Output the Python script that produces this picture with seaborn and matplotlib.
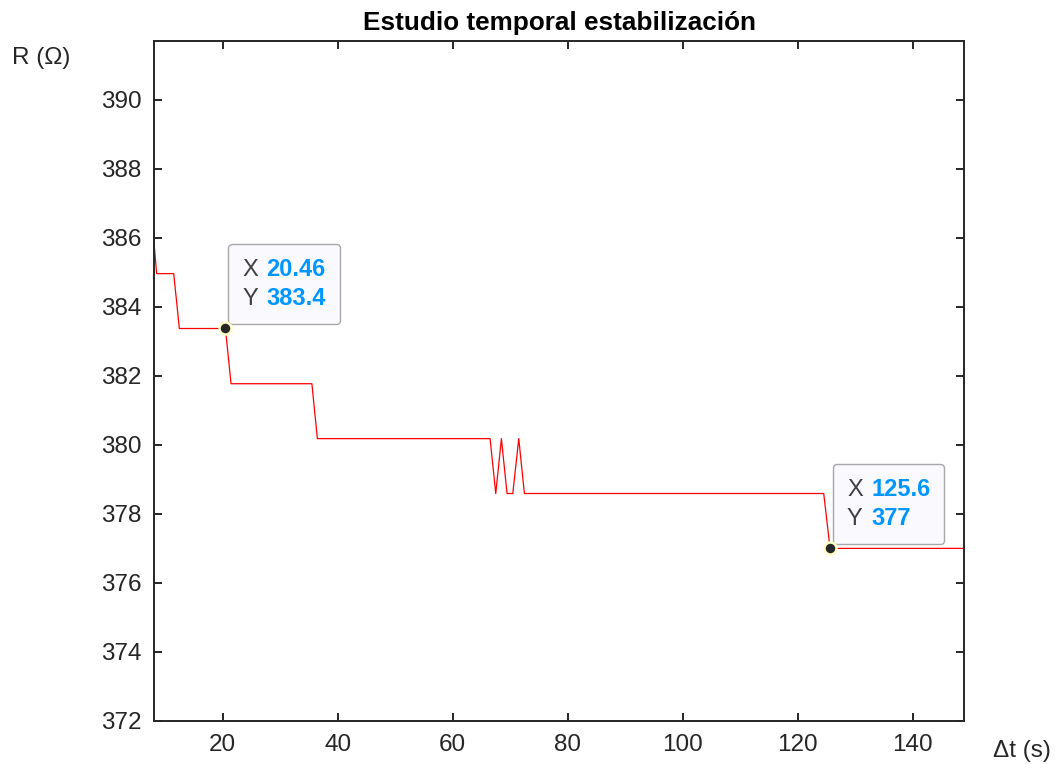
import matplotlib
matplotlib.use("Agg")
import matplotlib.pyplot as plt
from matplotlib.offsetbox import TextArea, HPacker, VPacker, AnnotationBbox
import seaborn as sns
import pandas as pd

# Resistance readings (breakpoints of the recorded trace)
t_s = [8.05, 8.5, 11.47, 12.45, 20.46, 21.44, 35.5, 36.45, 66.48, 67.47,
       68.45, 69.43, 70.43, 71.47, 72.45, 124.5, 125.6, 148.9]
r_ohm = [385.85, 384.96, 384.96, 383.37, 383.37, 381.77, 381.77, 380.18, 380.18, 378.59,
         380.18, 378.59, 378.59, 380.18, 378.59, 378.59, 377.0, 377.0]

# Marked points (data tips)
tip_t = [20.46, 125.6]
tip_r = [383.37, 377.0]

x_ticks = [20, 40, 60, 80, 100, 120, 140]
y_ticks = [372, 374, 376, 378, 380, 382, 384, 386, 388, 390]

title = "Estudio temporal estabilización"
x_label = "Δt (s)"
y_label = "R (Ω)"

sns.set_theme(style="white")
plt.rcParams["font.family"] = ["Liberation Sans", "DejaVu Sans"]

df = pd.DataFrame({"t": t_s, "R": r_ohm})
tips = pd.DataFrame({"t": tip_t, "R": tip_r})

fig = plt.figure(figsize=(10.58, 7.64), dpi=100)
ax = fig.add_axes([0.1456, 0.0563, 0.7656, 0.8901])

sns.lineplot(data=df, x="t", y="R", ax=ax, color="#ff0000", linewidth=0.9,
             estimator=None, sort=False)
sns.scatterplot(data=tips, x="t", y="R", ax=ax, color="#262626", s=75,
                edgecolor="#ffffc8", linewidth=1.8, zorder=5)

ax.set_xlim(min(t_s), max(t_s))
ax.set_ylim(372, 391.7)
ax.set_xticks(x_ticks)
ax.set_yticks(y_ticks)
ax.set_xlabel("")
ax.set_ylabel("")

for side in ["left", "right", "top", "bottom"]:
    ax.spines[side].set_visible(True)
    ax.spines[side].set_color("#262626")
    ax.spines[side].set_linewidth(1.4)

ax.tick_params(axis="both", which="both", direction="in", length=6, width=1.4,
               color="#262626", labelcolor="#262626", labelsize=17.5,
               top=True, right=True, bottom=True, left=True)
ax.tick_params(axis="y", pad=9)
ax.tick_params(axis="x", pad=9.5)

ax.set_title(title, fontsize=18.8, fontweight="bold", color="black", pad=8)

fig.text(0.039, 0.924, y_label, fontsize=17.5, color="#262626",
         ha="center", va="center")
fig.text(0.966, 0.017, x_label, fontsize=17.5, color="#262626",
         ha="center", va="center")

# Data tip boxes
for tx, ry in zip(tip_t, tip_r):
    rows = []
    for name, val in (("X", tx), ("Y", ry)):
        lab = TextArea(name, textprops=dict(fontsize=17, color="#404040"))
        num = TextArea(f"{val:.4g}", textprops=dict(fontsize=17, color="#0096ff",
                                                    fontweight="bold"))
        rows.append(HPacker(children=[lab, num], align="baseline", pad=0, sep=6))
    box = VPacker(children=rows, align="left", pad=0, sep=4.5)
    ab = AnnotationBbox(box, (tx, ry), xybox=(12.2, 13.2), xycoords="data",
                        boxcoords="offset points", box_alignment=(0, 0),
                        frameon=True, fontsize=10,
                        bboxprops=dict(boxstyle="round,pad=1.0,rounding_size=0.3",
                                       fc="#f9f9fe", ec="#a8a8a8", lw=1.0))
    ab.set_zorder(4)
    ax.add_artist(ab)

fig.savefig("out.png", dpi=100, facecolor="white")
